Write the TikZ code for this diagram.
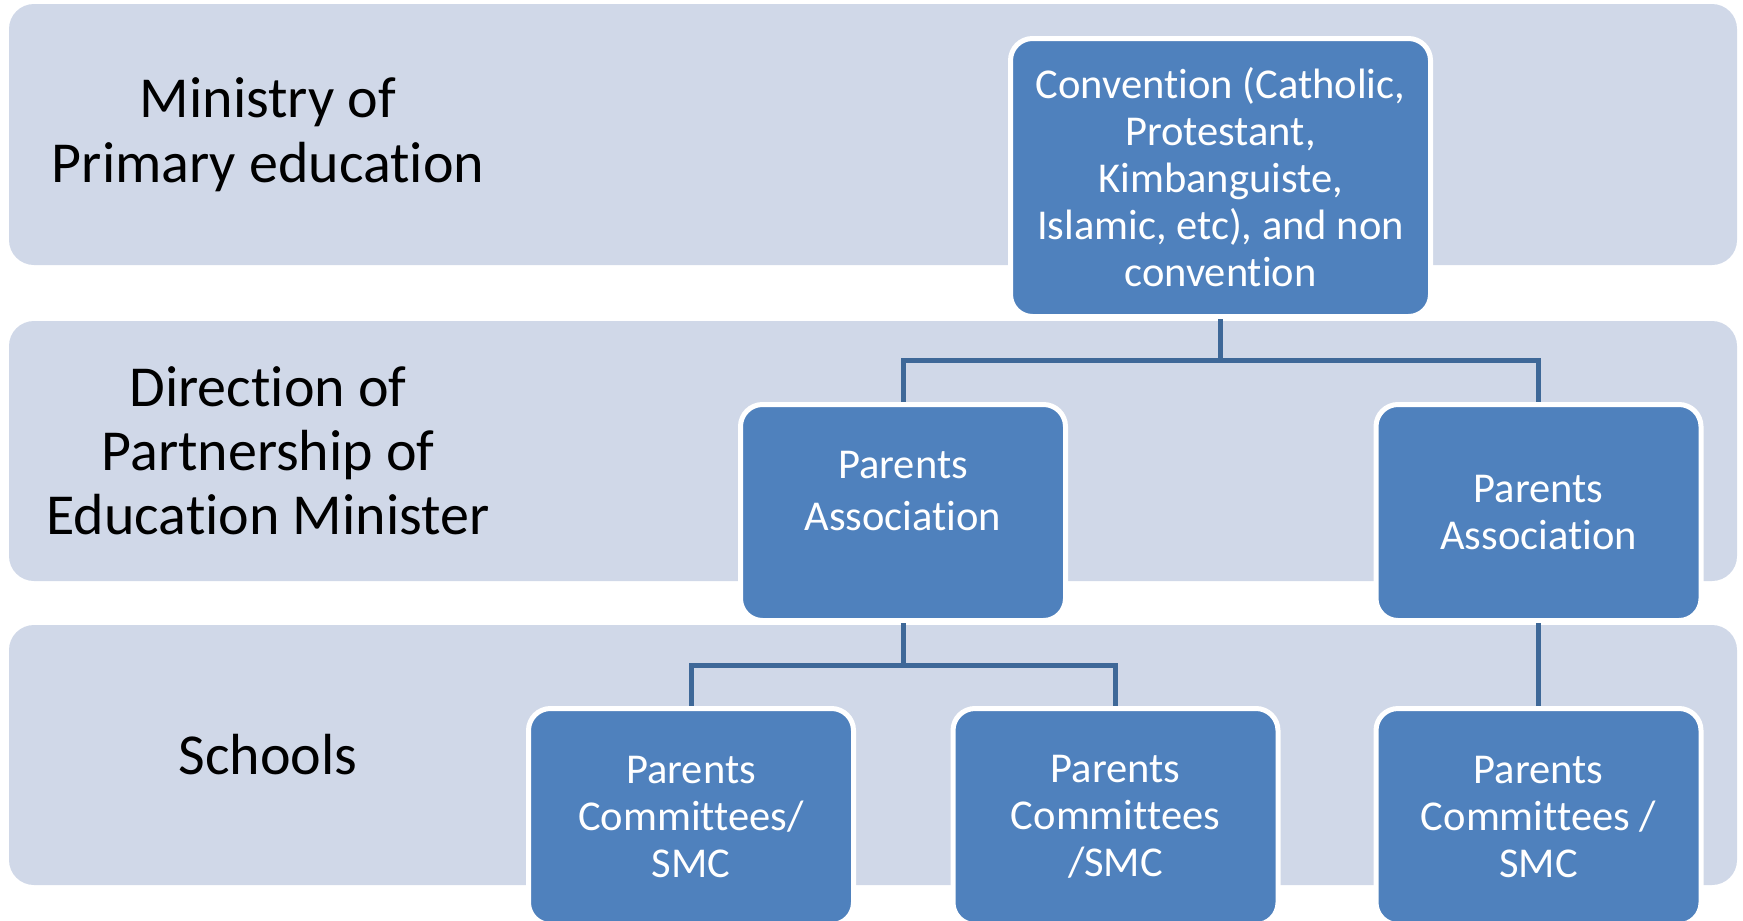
\documentclass[tikz,border=0pt]{standalone}
\usepackage{fontspec}
\setmainfont[Ligatures=NoCommon]{Carlito}
\definecolor{bandfill}{RGB}{208,216,232}
\definecolor{boxblue}{RGB}{79,129,189}
\definecolor{linkblue}{RGB}{62,104,152}

\begin{document}
\begin{tikzpicture}[x=1pt,y=1pt,yscale=-1,
  band/.style={fill=bandfill,rounded corners=25pt},
  tier/.style={align=center,text=black,inner sep=0pt,font=\fontsize{58}{64}\selectfont},
  unit/.style={draw=white,line width=5pt,fill=boxblue,rounded corners=22pt,
    text=white,align=center,inner sep=0pt,font=\fontsize{42.5}{47}\selectfont},
  smallunit/.style={unit,minimum width=325pt,minimum height=216pt},
  link/.style={draw=linkblue,line width=5pt}]
\useasboundingbox (0,0) rectangle (1743,921);

%Shape: Bands
\fill[band] (9,4) rectangle (1737,265);
\fill[band] (9,321) rectangle (1737,581);
\fill[band] (9,625) rectangle (1737,885);

% Text Node
\node[tier,font=\fontsize{58}{65.5}\selectfont] (ministry) at (268,134.5) {Ministry of\\Primary education};
% Text Node
\node[tier] (direction) at (268,451) {Direction of\\Partnership of\\Education Minister};
% Text Node
\node[tier] (schools) at (268,755) {Schools};

%Shape: Boxes
\node[unit,minimum width=420pt,minimum height=278pt] (conv) at (1220.5,177.5)
  {Convention (Catholic,\\Protestant,\\Kimbanguiste,\\Islamic, etc), and non\\convention};
\node[smallunit,font=\fontsize{42.5}{52}\selectfont] (paleft) at (903,512.5)
  {Parents\\Association\\[-9pt]\mbox{}};
\node[smallunit] (paright) at (1538.5,512.5) {Parents\\Association};
\node[smallunit] (pcone) at (691,816.5) {Parents\\Committees/\\SMC};
\node[smallunit] (pctwo) at (1115.5,816.5) {Parents\\Committees\\/SMC};
\node[smallunit] (pcthree) at (1538.5,816.5) {Parents\\Committees /\\SMC};

%Straight Lines
\coordinate (topbar) at (0,360.5);
\coordinate (lowbar) at (0,665);
\draw[link] (conv.south) -- (conv.south |- topbar) -| (paleft.north);
\draw[link] (conv.south |- topbar) -| (paright.north);
\draw[link] (paleft.south) -- (paleft.south |- lowbar) -| (pcone.north);
\draw[link] (paleft.south |- lowbar) -| (pctwo.north);
\draw[link] (paright.south) -- (pcthree.north);

\end{tikzpicture}
\end{document}
